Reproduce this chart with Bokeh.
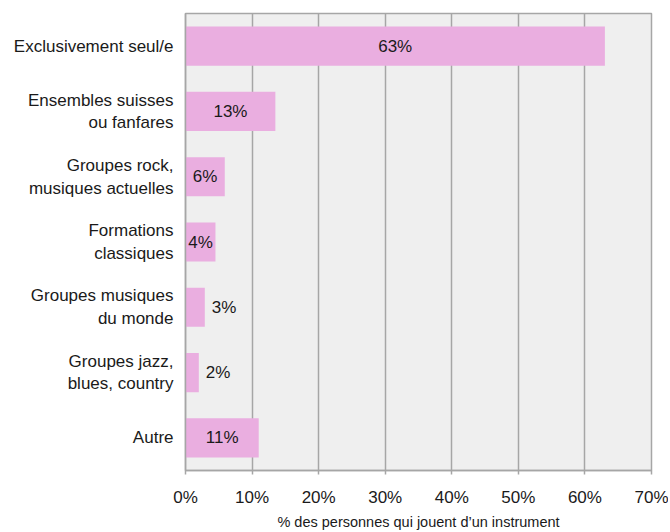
from bokeh.plotting import figure
from bokeh.models import FactorRange, Range1d, ColumnDataSource, FixedTicker, CustomJSTickFormatter
from bokeh.core.properties import value
from bokeh.embed import file_html
from bokeh.resources import INLINE

categories = ["Exclusivement seul/e", "Ensembles suisses\nou fanfares", "Groupes rock,\nmusiques actuelles",
              "Formations\nclassiques", "Groupes musiques\ndu monde", "Groupes jazz,\nblues, country", "Autre"]
values = [63, 13.5, 5.9, 4.5, 2.9, 2.0, 11.0]
labels = ["63%", "13%", "6%", "4%", "3%", "2%", "11%"]
x_ticks = [0, 10, 20, 30, 40, 50, 60, 70]

FONT = "Liberation Sans, sans-serif"

p = figure(width=668, height=532, output_backend="svg", toolbar_location=None,
           y_range=FactorRange(*categories[::-1], range_padding=0), x_range=Range1d(0, 70),
           min_border_left=185, min_border_right=17, min_border_top=13, min_border_bottom=60)
p.background_fill_color = "#EFEFEF"
p.border_fill_color = "white"
p.outline_line_color = "#A6A6A6"
p.outline_line_width = 1.5

src = ColumnDataSource(dict(cat=categories, val=values, lab=labels,
                            lx=[v / 2 if v >= 4 else v for v in values],
                            al=["center" if v >= 4 else "left" for v in values],
                            off=[0 if v >= 4 else 7 for v in values]))
p.hbar(y="cat", right="val", left=0, height=0.6, source=src, fill_color="#EAAEE0", line_color=None)
p.text(x="lx", y="cat", text="lab", source=src, text_align="al", x_offset="off", text_baseline="middle",
       text_font=value(FONT), text_font_size="17px", text_color="#1a1a1a")

p.xaxis.ticker = FixedTicker(ticks=x_ticks)
p.xaxis.formatter = CustomJSTickFormatter(code="return tick + '%';")
p.xaxis.axis_label = "% des personnes qui jouent d\u2019un instrument"
p.xaxis.axis_label_text_font = FONT
p.xaxis.axis_label_text_font_size = "14.5px"
p.xaxis.axis_label_text_font_style = "normal"
p.xaxis.axis_label_text_color = "#1a1a1a"
p.xaxis.axis_label_standoff = 4
p.xaxis.major_label_text_font = FONT
p.xaxis.major_label_text_font_size = "17px"
p.xaxis.major_label_text_color = "#1a1a1a"
p.xaxis.major_label_standoff = 13
p.xaxis.axis_line_color = "#A6A6A6"
p.xaxis.axis_line_width = 1.5
p.xaxis.major_tick_line_color = "#A6A6A6"
p.xaxis.major_tick_line_width = 1.5
p.xaxis.major_tick_in = 0
p.xaxis.major_tick_out = 4
p.xaxis.minor_tick_line_color = None

p.yaxis.major_label_text_font = FONT
p.yaxis.major_label_text_font_size = "17px"
p.yaxis.major_label_text_color = "#1a1a1a"
p.yaxis.axis_line_color = "#A6A6A6"
p.yaxis.axis_line_width = 1.5
p.yaxis.major_tick_line_color = None
p.yaxis.minor_tick_line_color = None
p.yaxis.major_label_standoff = 6

p.xgrid.grid_line_color = "#A6A6A6"
p.xgrid.grid_line_width = 1.5
p.ygrid.grid_line_color = None

open("out.html", "w").write(file_html(p, INLINE))
